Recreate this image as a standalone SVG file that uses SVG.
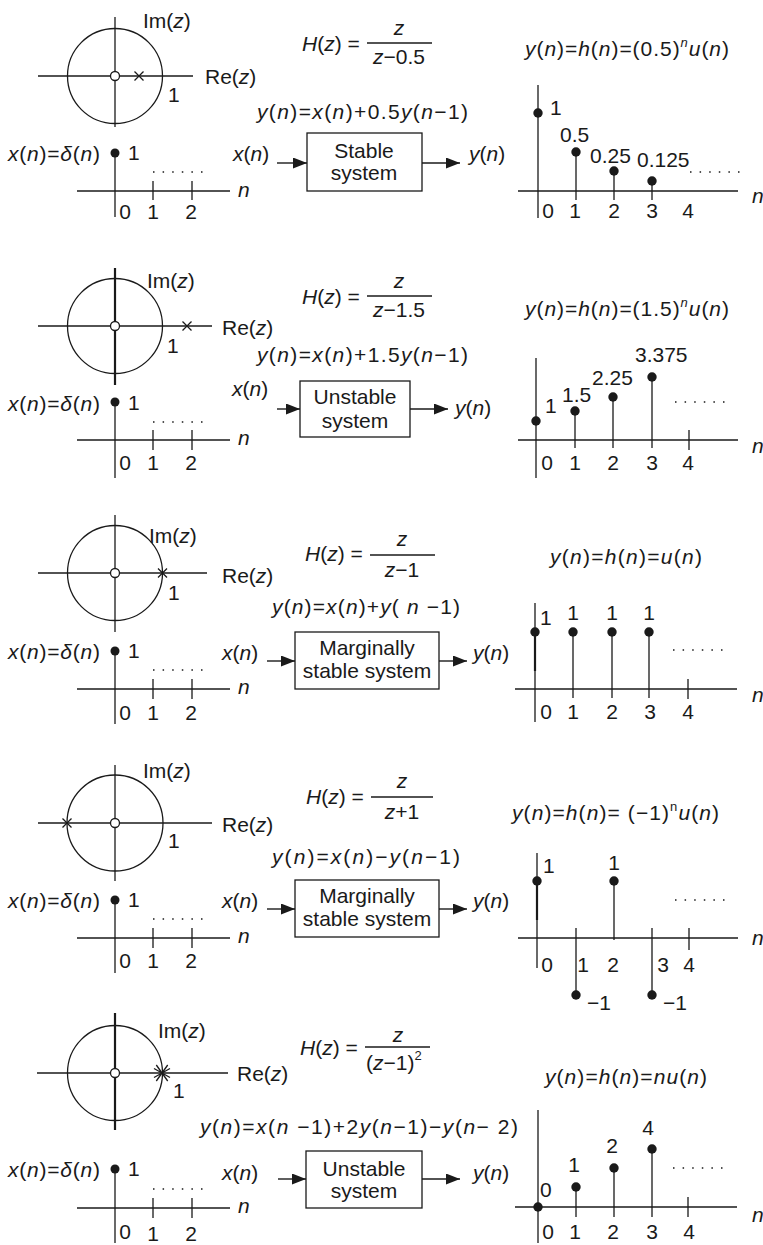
<svg xmlns="http://www.w3.org/2000/svg" width="763" height="1245" viewBox="0 0 763 1245">
<defs>
<style>
.ln{stroke:#1a1a1a;stroke-width:1.3;fill:none}
.bd{stroke:#1a1a1a;stroke-width:2.2;fill:none}
.dot{fill:#1a1a1a}
.zero{fill:#fff;stroke:#1a1a1a;stroke-width:1.3}
.dots{stroke:#1a1a1a;stroke-width:1.5;stroke-dasharray:1.5 8.1}
.t{font-family:"Liberation Sans",Arial,sans-serif;font-size:21px;fill:#1a1a1a}
.i{font-style:italic}
.c{text-anchor:middle}
.sup{font-size:13px}
.arr{stroke:#1a1a1a;stroke-width:1.4;fill:none;marker-end:url(#ah)}
</style>
<marker id="ah" markerWidth="14" markerHeight="11" refX="14" refY="5.5" orient="auto" markerUnits="userSpaceOnUse">
<path d="M0,0 L14,5.5 L0,11 z" fill="#1a1a1a"/>
</marker>
</defs>
<rect width="763" height="1245" fill="#fff"/>

<!-- ================= PANEL 1 ================= -->
<g id="p1-polezero">
<circle class="ln" cx="115" cy="76" r="47.5"/>
<line class="ln" x1="115" y1="17" x2="115" y2="127"/>
<line class="ln" x1="38" y1="76" x2="193" y2="76"/>
<circle class="zero" cx="115" cy="76" r="4.5"/>
<path class="ln" d="M134.5,71.5 L143.5,80.5 M134.5,80.5 L143.5,71.5"/>
<text class="t" x="143" y="28">Im(<tspan class="i">z</tspan>)</text>
<text class="t" x="205" y="84">Re(<tspan class="i">z</tspan>)</text>
<text class="t" x="168" y="102">1</text>
</g>
<g id="p1-input">
<text class="t" x="8" y="161" textLength="92"><tspan class="i">x</tspan>(<tspan class="i">n</tspan>)=<tspan class="i">δ</tspan>(<tspan class="i">n</tspan>)</text>
<line class="ln" x1="115" y1="153" x2="115" y2="217"/>
<circle class="dot" cx="115" cy="153" r="4.5"/>
<text class="t" x="128" y="160">1</text>
<line class="ln" x1="77" y1="191" x2="230" y2="191"/>
<path class="ln" d="M153,181 V200 M192,181 V200"/>
<line class="dots" x1="153" y1="172" x2="203" y2="172"/>
<text class="t i" x="238" y="197">n</text>
<text class="t c" x="125" y="219">0</text>
<text class="t c" x="153" y="219">1</text>
<text class="t c" x="191" y="219">2</text>
</g>
<g id="p1-transfer">
<text class="t" x="302" y="51"><tspan class="i">H</tspan>(<tspan class="i">z</tspan>) =</text>
<line class="ln" x1="367" y1="43" x2="432" y2="43"/>
<text class="t i c" x="399" y="35">z</text>
<text class="t c" x="399" y="64"><tspan class="i">z</tspan>−0.5</text>
</g>
<g id="p1-equation">
<text class="t" x="257" y="119" textLength="211"><tspan class="i">y</tspan>(<tspan class="i">n</tspan>)=<tspan class="i">x</tspan>(<tspan class="i">n</tspan>)+0.5<tspan class="i">y</tspan>(<tspan class="i">n</tspan>−1)</text>
</g>
<g id="p1-system">
<rect class="ln" x="307" y="133" width="115" height="58"/>
<text class="t c" x="364" y="158">Stable</text>
<text class="t c" x="364" y="180">system</text>
</g>
<g id="p1-in"><text class="t" x="233" y="161"><tspan class="i">x</tspan>(<tspan class="i">n</tspan>)</text></g>
<g id="p1-out"><text class="t" x="469" y="161"><tspan class="i">y</tspan>(<tspan class="i">n</tspan>)</text></g>
<g id="p1-response">
<text class="t" x="525" y="56" textLength="204"><tspan class="i">y</tspan>(<tspan class="i">n</tspan>)=<tspan class="i">h</tspan>(<tspan class="i">n</tspan>)=(0.5)<tspan class="i sup" dy="-9">n</tspan><tspan class="i" dy="9">u</tspan>(<tspan class="i">n</tspan>)</text>
<line class="ln" x1="538" y1="85" x2="538" y2="218"/>
<line class="ln" x1="518" y1="191" x2="738" y2="191"/>
<path class="ln" d="M576,152 V200 M614,171 V200 M652,181 V200"/>
<circle class="dot" cx="538" cy="113" r="4.7"/>
<circle class="dot" cx="576" cy="152" r="4.7"/>
<circle class="dot" cx="614" cy="171" r="4.7"/>
<circle class="dot" cx="652" cy="181" r="4.7"/>
<text class="t" x="550" y="115">1</text>
<text class="t" x="560" y="142">0.5</text>
<text class="t" x="590" y="163">0.25</text>
<text class="t" x="637" y="167">0.125</text>
<line class="dots" x1="690" y1="172" x2="740" y2="172"/>
<text class="t i" x="752" y="203">n</text>
<text class="t c" x="548" y="218">0</text>
<text class="t c" x="575" y="218">1</text>
<text class="t c" x="614" y="218">2</text>
<text class="t c" x="652" y="218">3</text>
<text class="t c" x="688" y="218">4</text>
</g>

<!-- ================= PANEL 2 ================= -->
<g id="p2-polezero">
<circle class="ln" cx="115" cy="326" r="47.5"/>
<line class="bd" x1="115" y1="268" x2="115" y2="385"/>
<line class="ln" x1="38" y1="326" x2="212" y2="326"/>
<circle class="zero" cx="115" cy="326" r="4.5"/>
<path class="ln" d="M182.5,321.5 L191.5,330.5 M182.5,330.5 L191.5,321.5"/>
<text class="t" x="147" y="288">Im(<tspan class="i">z</tspan>)</text>
<text class="t" x="222" y="335">Re(<tspan class="i">z</tspan>)</text>
<text class="t" x="167" y="353">1</text>
</g>
<g id="p2-input">
<text class="t" x="8" y="411" textLength="92"><tspan class="i">x</tspan>(<tspan class="i">n</tspan>)=<tspan class="i">δ</tspan>(<tspan class="i">n</tspan>)</text>
<line class="ln" x1="115" y1="402" x2="115" y2="478"/>
<circle class="dot" cx="115" cy="402" r="4.5"/>
<text class="t" x="128" y="410">1</text>
<line class="ln" x1="77" y1="440" x2="230" y2="440"/>
<path class="ln" d="M153,430 V450 M192,430 V450"/>
<line class="dots" x1="153" y1="422" x2="203" y2="422"/>
<text class="t i" x="238" y="445">n</text>
<text class="t c" x="125" y="470">0</text>
<text class="t c" x="153" y="470">1</text>
<text class="t c" x="191" y="470">2</text>
</g>
<g id="p2-transfer">
<text class="t" x="302" y="304"><tspan class="i">H</tspan>(<tspan class="i">z</tspan>) =</text>
<line class="ln" x1="367" y1="296" x2="432" y2="296"/>
<text class="t i c" x="399" y="288">z</text>
<text class="t c" x="399" y="317"><tspan class="i">z</tspan>−1.5</text>
</g>
<g id="p2-equation">
<text class="t" x="257" y="362" textLength="211"><tspan class="i">y</tspan>(<tspan class="i">n</tspan>)=<tspan class="i">x</tspan>(<tspan class="i">n</tspan>)+1.5<tspan class="i">y</tspan>(<tspan class="i">n</tspan>−1)</text>
</g>
<g id="p2-system">
<rect class="ln" x="300" y="381" width="110" height="56"/>
<text class="t c" x="355" y="404">Unstable</text>
<text class="t c" x="355" y="428">system</text>
</g>
<g id="p2-in"><text class="t" x="232" y="396"><tspan class="i">x</tspan>(<tspan class="i">n</tspan>)</text></g>
<g id="p2-out"><text class="t" x="455" y="415"><tspan class="i">y</tspan>(<tspan class="i">n</tspan>)</text></g>
<g id="p2-response">
<text class="t" x="525" y="316" textLength="204"><tspan class="i">y</tspan>(<tspan class="i">n</tspan>)=<tspan class="i">h</tspan>(<tspan class="i">n</tspan>)=(1.5)<tspan class="i sup" dy="-9">n</tspan><tspan class="i" dy="9">u</tspan>(<tspan class="i">n</tspan>)</text>
<line class="ln" x1="536" y1="358" x2="536" y2="478"/>
<line class="ln" x1="518" y1="440" x2="738" y2="440"/>
<path class="ln" d="M575,411 V448 M613,397 V448 M652,377 V448 M689,430 V450"/>
<circle class="dot" cx="536" cy="421" r="4.7"/>
<circle class="dot" cx="575" cy="411" r="4.7"/>
<circle class="dot" cx="613" cy="397" r="4.7"/>
<circle class="dot" cx="652" cy="377" r="4.7"/>
<text class="t" x="545" y="413">1</text>
<text class="t" x="562" y="402">1.5</text>
<text class="t" x="592" y="385">2.25</text>
<text class="t" x="635" y="362">3.375</text>
<line class="dots" x1="675" y1="402" x2="725" y2="402"/>
<text class="t i" x="752" y="453">n</text>
<text class="t c" x="547" y="470">0</text>
<text class="t c" x="575" y="470">1</text>
<text class="t c" x="613" y="470">2</text>
<text class="t c" x="652" y="470">3</text>
<text class="t c" x="688" y="470">4</text>
</g>

<!-- ================= PANEL 3 ================= -->
<g id="p3-polezero">
<circle class="ln" cx="115" cy="573" r="47.5"/>
<line class="ln" x1="115" y1="515" x2="115" y2="632"/>
<line class="ln" x1="38" y1="573" x2="207" y2="573"/>
<circle class="zero" cx="115" cy="573" r="4.5"/>
<path class="ln" d="M158,568.5 L167,577.5 M158,577.5 L167,568.5"/>
<text class="t" x="149" y="543">Im(<tspan class="i">z</tspan>)</text>
<text class="t" x="222" y="583">Re(<tspan class="i">z</tspan>)</text>
<text class="t" x="168" y="600">1</text>
</g>
<g id="p3-input">
<text class="t" x="8" y="659" textLength="92"><tspan class="i">x</tspan>(<tspan class="i">n</tspan>)=<tspan class="i">δ</tspan>(<tspan class="i">n</tspan>)</text>
<line class="ln" x1="115" y1="651" x2="115" y2="724"/>
<circle class="dot" cx="115" cy="651" r="4.5"/>
<text class="t" x="128" y="658">1</text>
<line class="ln" x1="77" y1="689" x2="230" y2="689"/>
<path class="ln" d="M153,679 V699 M192,679 V699"/>
<line class="dots" x1="153" y1="670" x2="203" y2="670"/>
<text class="t i" x="238" y="694">n</text>
<text class="t c" x="125" y="720">0</text>
<text class="t c" x="153" y="720">1</text>
<text class="t c" x="191" y="720">2</text>
</g>
<g id="p3-transfer">
<text class="t" x="305" y="561"><tspan class="i">H</tspan>(<tspan class="i">z</tspan>) =</text>
<line class="ln" x1="370" y1="555" x2="435" y2="555"/>
<text class="t i c" x="402" y="546">z</text>
<text class="t c" x="402" y="577"><tspan class="i">z</tspan>−1</text>
</g>
<g id="p3-equation">
<text class="t" x="272" y="614" textLength="188"><tspan class="i">y</tspan>(<tspan class="i">n</tspan>)=<tspan class="i">x</tspan>(<tspan class="i">n</tspan>)+<tspan class="i">y</tspan>( <tspan class="i">n</tspan> −1)</text>
</g>
<g id="p3-system">
<rect class="ln" x="295" y="632" width="144" height="57"/>
<text class="t c" x="367" y="655">Marginally</text>
<text class="t c" x="367" y="678">stable system</text>
</g>
<g id="p3-in"><text class="t" x="222" y="660"><tspan class="i">x</tspan>(<tspan class="i">n</tspan>)</text></g>
<g id="p3-out"><text class="t" x="473" y="660"><tspan class="i">y</tspan>(<tspan class="i">n</tspan>)</text></g>
<g id="p3-response">
<text class="t" x="550" y="564" textLength="152"><tspan class="i">y</tspan>(<tspan class="i">n</tspan>)=<tspan class="i">h</tspan>(<tspan class="i">n</tspan>)=<tspan class="i">u</tspan>(<tspan class="i">n</tspan>)</text>
<line class="ln" x1="535" y1="603" x2="535" y2="722"/>
<line class="bd" x1="535" y1="632" x2="535" y2="671"/>
<line class="ln" x1="515" y1="689" x2="737" y2="689"/>
<path class="ln" d="M573,632 V698 M612,632 V698 M649,632 V698 M688,679 V699"/>
<circle class="dot" cx="535" cy="632" r="4.7"/>
<circle class="dot" cx="573" cy="632" r="4.7"/>
<circle class="dot" cx="612" cy="632" r="4.7"/>
<circle class="dot" cx="649" cy="632" r="4.7"/>
<text class="t" x="540" y="625">1</text>
<text class="t c" x="573" y="620">1</text>
<text class="t c" x="612" y="620">1</text>
<text class="t c" x="649" y="620">1</text>
<line class="dots" x1="673" y1="650" x2="723" y2="650"/>
<text class="t i" x="752" y="702">n</text>
<text class="t c" x="546" y="719">0</text>
<text class="t c" x="573" y="719">1</text>
<text class="t c" x="612" y="719">2</text>
<text class="t c" x="650" y="719">3</text>
<text class="t c" x="688" y="719">4</text>
</g>

<!-- ================= PANEL 4 ================= -->
<g id="p4-polezero">
<circle class="ln" cx="115" cy="823" r="48"/>
<line class="ln" x1="115" y1="765" x2="115" y2="881"/>
<line class="ln" x1="38" y1="823" x2="212" y2="823"/>
<circle class="zero" cx="115" cy="823" r="4.5"/>
<path class="ln" d="M62.5,818.5 L71.5,827.5 M62.5,827.5 L71.5,818.5"/>
<text class="t" x="143" y="778">Im(<tspan class="i">z</tspan>)</text>
<text class="t" x="222" y="832">Re(<tspan class="i">z</tspan>)</text>
<text class="t" x="168" y="848">1</text>
</g>
<g id="p4-input">
<text class="t" x="8" y="908" textLength="92"><tspan class="i">x</tspan>(<tspan class="i">n</tspan>)=<tspan class="i">δ</tspan>(<tspan class="i">n</tspan>)</text>
<line class="ln" x1="115" y1="900" x2="115" y2="973"/>
<circle class="dot" cx="115" cy="900" r="4.5"/>
<text class="t" x="128" y="907">1</text>
<line class="ln" x1="77" y1="938" x2="230" y2="938"/>
<path class="ln" d="M153,928 V948 M192,928 V948"/>
<line class="dots" x1="153" y1="919" x2="203" y2="919"/>
<text class="t i" x="238" y="943">n</text>
<text class="t c" x="125" y="968">0</text>
<text class="t c" x="153" y="968">1</text>
<text class="t c" x="191" y="968">2</text>
</g>
<g id="p4-transfer">
<text class="t" x="306" y="804"><tspan class="i">H</tspan>(<tspan class="i">z</tspan>) =</text>
<line class="ln" x1="371" y1="797" x2="433" y2="797"/>
<text class="t i c" x="402" y="788">z</text>
<text class="t c" x="402" y="819"><tspan class="i">z</tspan>+1</text>
</g>
<g id="p4-equation">
<text class="t" x="272" y="864" textLength="188"><tspan class="i">y</tspan>(<tspan class="i">n</tspan>)=<tspan class="i">x</tspan>(<tspan class="i">n</tspan>)−<tspan class="i">y</tspan>(<tspan class="i">n</tspan>−1)</text>
</g>
<g id="p4-system">
<rect class="ln" x="295" y="880" width="144" height="57"/>
<text class="t c" x="367" y="903">Marginally</text>
<text class="t c" x="367" y="926">stable system</text>
</g>
<g id="p4-in"><text class="t" x="222" y="908"><tspan class="i">x</tspan>(<tspan class="i">n</tspan>)</text></g>
<g id="p4-out"><text class="t" x="473" y="908"><tspan class="i">y</tspan>(<tspan class="i">n</tspan>)</text></g>
<g id="p4-response">
<text class="t" x="512" y="820" textLength="207"><tspan class="i">y</tspan>(<tspan class="i">n</tspan>)=<tspan class="i">h</tspan>(<tspan class="i">n</tspan>)=  (−1)<tspan class="sup" dy="-9">n</tspan><tspan class="i" dy="9">u</tspan>(<tspan class="i">n</tspan>)</text>
<line class="ln" x1="537" y1="853" x2="537" y2="968"/>
<line class="bd" x1="537" y1="881" x2="537" y2="920"/>
<line class="ln" x1="518" y1="938" x2="738" y2="938"/>
<path class="ln" d="M614,881 V940 M576,928 V995 M652,928 V995 M689,928 V950"/>
<circle class="dot" cx="537" cy="881" r="4.7"/>
<circle class="dot" cx="614" cy="881" r="4.7"/>
<circle class="dot" cx="576" cy="995" r="4.7"/>
<circle class="dot" cx="652" cy="995" r="4.7"/>
<text class="t" x="543" y="873">1</text>
<text class="t c" x="614" y="870">1</text>
<text class="t" x="587" y="1010">−1</text>
<text class="t" x="663" y="1010">−1</text>
<line class="dots" x1="675" y1="900" x2="725" y2="900"/>
<text class="t i" x="752" y="945">n</text>
<text class="t c" x="547" y="972">0</text>
<text class="t c" x="583" y="972">1</text>
<text class="t c" x="613" y="972">2</text>
<text class="t c" x="663" y="972">3</text>
<text class="t c" x="689" y="972">4</text>
</g>

<!-- ================= PANEL 5 ================= -->
<g id="p5-polezero">
<circle class="ln" cx="115" cy="1073" r="47.5"/>
<line class="bd" x1="115" y1="1013" x2="115" y2="1130"/>
<line class="ln" x1="37" y1="1073" x2="228" y2="1073"/>
<circle class="zero" cx="115" cy="1073" r="4.5"/>
<path class="ln" d="M156.3,1065 L167.7,1081 M156.3,1081 L167.7,1065 M154,1068.5 L170,1077.5 M154,1077.5 L170,1068.5"/>
<text class="t" x="158" y="1038">Im(<tspan class="i">z</tspan>)</text>
<text class="t" x="237" y="1081">Re(<tspan class="i">z</tspan>)</text>
<text class="t" x="173" y="1098">1</text>
</g>
<g id="p5-input">
<text class="t" x="8" y="1177" textLength="92"><tspan class="i">x</tspan>(<tspan class="i">n</tspan>)=<tspan class="i">δ</tspan>(<tspan class="i">n</tspan>)</text>
<line class="ln" x1="115" y1="1169" x2="115" y2="1243"/>
<circle class="dot" cx="115" cy="1169" r="4.5"/>
<text class="t" x="128" y="1176">1</text>
<line class="ln" x1="77" y1="1208" x2="230" y2="1208"/>
<path class="ln" d="M153,1198 V1218 M192,1198 V1218"/>
<line class="dots" x1="153" y1="1189" x2="203" y2="1189"/>
<text class="t i" x="238" y="1213">n</text>
<text class="t c" x="125" y="1239">0</text>
<text class="t c" x="153" y="1241">1</text>
<text class="t c" x="191" y="1241">2</text>
</g>
<g id="p5-transfer">
<text class="t" x="300" y="1055"><tspan class="i">H</tspan>(<tspan class="i">z</tspan>) =</text>
<line class="ln" x1="365" y1="1047" x2="430" y2="1047"/>
<text class="t i c" x="398" y="1042">z</text>
<text class="t" x="366" y="1070">(<tspan class="i">z</tspan>−1)<tspan class="sup" dy="-10">2</tspan></text>
</g>
<g id="p5-equation">
<text class="t" x="200" y="1134" textLength="318"><tspan class="i">y</tspan>(<tspan class="i">n</tspan>)=<tspan class="i">x</tspan>(<tspan class="i">n</tspan> −1)+2<tspan class="i">y</tspan>(<tspan class="i">n</tspan>−1)−<tspan class="i">y</tspan>(<tspan class="i">n</tspan>− 2)</text>
</g>
<g id="p5-system">
<rect class="ln" x="306" y="1151" width="116" height="57"/>
<text class="t c" x="364" y="1176">Unstable</text>
<text class="t c" x="364" y="1198">system</text>
</g>
<g id="p5-in"><text class="t" x="222" y="1180"><tspan class="i">x</tspan>(<tspan class="i">n</tspan>)</text></g>
<g id="p5-out"><text class="t" x="473" y="1180"><tspan class="i">y</tspan>(<tspan class="i">n</tspan>)</text></g>
<g id="p5-response">
<text class="t" x="545" y="1084" textLength="162"><tspan class="i">y</tspan>(<tspan class="i">n</tspan>)=<tspan class="i">h</tspan>(<tspan class="i">n</tspan>)=<tspan class="i">nu</tspan>(<tspan class="i">n</tspan>)</text>
<line class="ln" x1="538" y1="1110" x2="538" y2="1243"/>
<line class="ln" x1="515" y1="1207" x2="737" y2="1207"/>
<path class="ln" d="M576,1187 V1217 M614,1168 V1217 M652,1149 V1217 M688,1197 V1217"/>
<circle class="dot" cx="538" cy="1207" r="4.7"/>
<circle class="dot" cx="576" cy="1187" r="4.7"/>
<circle class="dot" cx="614" cy="1168" r="4.7"/>
<circle class="dot" cx="652" cy="1149" r="4.7"/>
<text class="t" x="540" y="1197">0</text>
<text class="t c" x="574" y="1172">1</text>
<text class="t c" x="612" y="1153">2</text>
<text class="t c" x="648" y="1135">4</text>
<line class="dots" x1="673" y1="1168" x2="723" y2="1168"/>
<text class="t i" x="752" y="1222">n</text>
<text class="t c" x="548" y="1239">0</text>
<text class="t c" x="575" y="1239">1</text>
<text class="t c" x="613" y="1239">2</text>
<text class="t c" x="652" y="1239">3</text>
<text class="t c" x="689" y="1239">4</text>
</g>

<!-- ================= CONNECTORS ================= -->
<g id="connectors">
<line class="arr" x1="277" y1="163" x2="307" y2="163"/>
<line class="arr" x1="422" y1="163" x2="460" y2="163"/>
<line class="arr" x1="277" y1="409" x2="300" y2="409"/>
<line class="arr" x1="410" y1="409" x2="448" y2="409"/>
<line class="arr" x1="267" y1="661" x2="295" y2="661"/>
<line class="arr" x1="439" y1="661" x2="467" y2="661"/>
<line class="arr" x1="267" y1="909" x2="295" y2="909"/>
<line class="arr" x1="439" y1="909" x2="467" y2="909"/>
<line class="arr" x1="278" y1="1179" x2="306" y2="1179"/>
<line class="arr" x1="422" y1="1179" x2="460" y2="1179"/>
</g>
</svg>
